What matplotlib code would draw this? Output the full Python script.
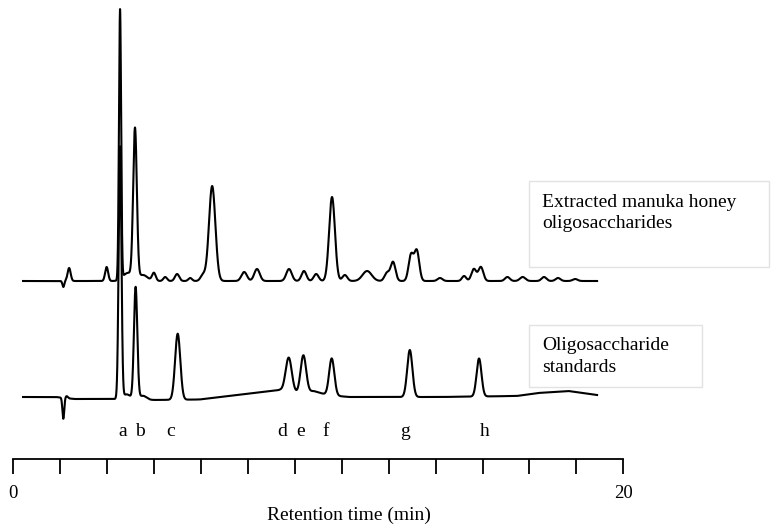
import numpy as np
import matplotlib
matplotlib.use("Agg")
import matplotlib.pyplot as plt
from matplotlib.patches import Rectangle

# ---------------- data ----------------
# Extracted manuka honey oligosaccharides: retention time (min), height, width (sigma, min)
honey_rt = [1.64, 1.83, 3.06, 3.50, 3.75, 3.99, 4.25, 4.61, 4.98, 5.37, 5.80, 6.22, 6.52,
            7.57, 7.99, 9.04, 9.53, 9.93, 10.45, 10.87, 11.60, 12.25, 12.45, 13.04, 13.23,
            13.99, 14.78, 15.10, 15.33, 16.20, 16.70, 17.40, 17.86, 18.42]
honey_h = [-6, 13, 14, 270, 8, 150, 6, 8, 4, 7, 3, 6, 95,
           9, 12, 12, 10, 7, 84, 6, 10, 8, 19, 26, 30,
           3, 5, 12, 14, 4, 4, 4, 3, 2]
honey_w = [0.03, 0.05, 0.05, 0.035, 0.15, 0.06, 0.15, 0.06, 0.06, 0.07, 0.06, 0.08, 0.105,
           0.09, 0.09, 0.09, 0.08, 0.08, 0.095, 0.08, 0.15, 0.08, 0.08, 0.08, 0.08,
           0.08, 0.07, 0.08, 0.08, 0.08, 0.09, 0.08, 0.08, 0.08]

# Oligosaccharide standards
std_rt = [1.64, 1.75, 3.50, 3.72, 4.01, 4.25, 5.39, 9.03, 9.51, 10.44, 13.00, 15.27]
std_h = [-21, 2, 252, 5, 112, 4, 66, 34, 37, 37, 47, 38]
std_w = [0.03, 0.04, 0.045, 0.12, 0.055, 0.12, 0.085, 0.10, 0.09, 0.085, 0.085, 0.08]
std_base_t = [0.32, 1.40, 2.00, 3.30, 4.50, 6.10, 8.74, 9.30, 9.85, 10.30, 11.00, 12.50, 14.00, 16.50, 17.20, 18.20, 19.14]
std_base_y = [397, 397, 399, 399, 400, 399.5, 390, 393, 391, 395, 397, 397, 397, 396, 393, 391, 395]
honey_base = 281

peak_labels = ["a", "b", "c", "d", "e", "f", "g", "h"]
label_rt = [3.60, 4.15, 5.15, 8.80, 9.43, 10.25, 12.85, 15.45]

t_start, t_end = 0.32, 19.14
axis_ticks = np.linspace(0, 20, 14)
tick_labels = {0: "0", 20: "20"}

# ---------------- figure ----------------
fig = plt.figure(figsize=(7.79, 5.28), dpi=100)
ax = fig.add_axes([0, 0, 1, 1])
px_per_min = 30.5
x0 = 13.3
ax.set_xlim(-x0 / px_per_min, (779 - x0) / px_per_min)
ax.set_ylim(528, 0)
ax.axis("off")

serif = ["Liberation Serif", "DejaVu Serif"]

t = np.linspace(t_start, t_end, 8000)


def trace(rts, hs, ws):
    s = np.zeros_like(t)
    for r, h, w in zip(rts, hs, ws):
        s += h * np.exp(-0.5 * ((t - r) / w) ** 2)
    return s


honey = honey_base - trace(honey_rt, honey_h, honey_w)
std = np.interp(t, std_base_t, std_base_y) - trace(std_rt, std_h, std_w)

ax.plot(t, std, color="black", lw=1.5, solid_joinstyle="round")
ax.plot(t, honey, color="black", lw=1.5, solid_joinstyle="round")

# peak letters
for lab, r in zip(peak_labels, label_rt):
    ax.text(r, 432, lab, ha="center", va="center", fontsize=14, family=serif)

# axis line with hanging ticks
ax.plot([0, 20], [459, 459], color="black", lw=1.3)
ax.vlines(axis_ticks, 459, 474, color="black", lw=1.3)
for v, s in tick_labels.items():
    ax.text(v, 493, s, ha="center", va="center", fontsize=13.5, family=serif)
ax.text(11.0, 515, "Retention time (min)", ha="center", va="center", fontsize=14, family=serif)

# text boxes (pixel coordinates converted to data)
def px2t(px):
    return (px - x0) / px_per_min

for (l, tp, r, b), lines, ys in [
    ((529, 181, 769, 267), ["Extracted manuka honey", "oligosaccharides"], [207, 228]),
    ((529, 325, 702, 387), ["Oligosaccharide", "standards"], [350, 372.5]),
]:
    ax.add_patch(Rectangle((px2t(l), tp), px2t(r) - px2t(l), b - tp,
                           facecolor="white", edgecolor="#e2e2e2", lw=1.0))
    for line, y in zip(lines, ys):
        ax.text(px2t(542), y, line, ha="left", va="baseline", fontsize=14, family=serif)

fig.savefig("out.png", dpi=100)
